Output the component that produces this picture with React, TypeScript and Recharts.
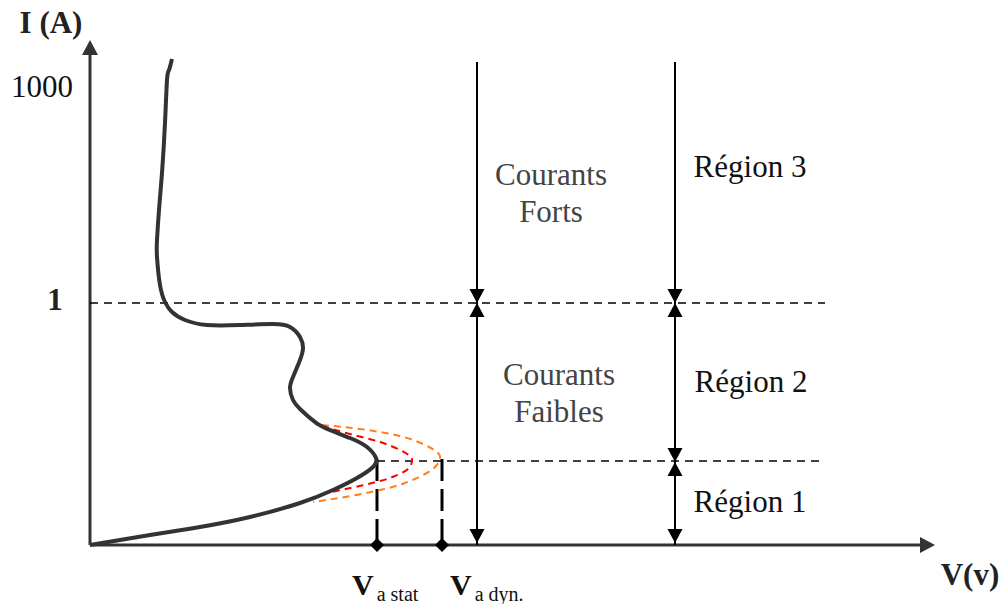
import React from "react";
import {
  ComposedChart,
  Line,
  Scatter,
  XAxis,
  YAxis,
  ReferenceLine,
} from "recharts";

// Schematic units: v = tension (arbitrary), i = courant (arbitrary, 0 at the V axis)
const mainCurve = [
  { v: 0, i: 0 },
  { v: 60, i: 10 },
  { v: 110, i: 18 },
  { v: 160, i: 28 },
  { v: 210, i: 42 },
  { v: 243, i: 55 },
  { v: 267, i: 67 },
  { v: 283, i: 78 },
  { v: 286, i: 87 },
  { v: 277, i: 98 },
  { v: 260, i: 107 },
  { v: 233, i: 118 },
  { v: 220, i: 127 },
  { v: 210, i: 136 },
  { v: 203, i: 145 },
  { v: 200, i: 157 },
  { v: 203, i: 168 },
  { v: 210, i: 185 },
  { v: 213, i: 197 },
  { v: 210, i: 208 },
  { v: 200, i: 218 },
  { v: 183, i: 221 },
  { v: 150, i: 220 },
  { v: 117, i: 220 },
  { v: 95, i: 225 },
  { v: 82, i: 233 },
  { v: 75, i: 243 },
  { v: 70, i: 260 },
  { v: 67, i: 288 },
  { v: 67, i: 305 },
  { v: 69, i: 335 },
  { v: 72, i: 372 },
  { v: 75, i: 422 },
  { v: 77, i: 465 },
  { v: 79, i: 475 },
  { v: 82, i: 486 },
];

const redCurve = [
  { v: 232, i: 119 },
  { v: 260, i: 111 },
  { v: 290, i: 103 },
  { v: 310, i: 95 },
  { v: 320, i: 89 },
  { v: 322, i: 84 },
  { v: 318, i: 76 },
  { v: 305, i: 69 },
  { v: 290, i: 64 },
  { v: 265, i: 58 },
  { v: 242, i: 53 },
];

const orangeCurve = [
  { v: 232, i: 120 },
  { v: 270, i: 116 },
  { v: 310, i: 109 },
  { v: 335, i: 100 },
  { v: 347, i: 93 },
  { v: 350, i: 87 },
  { v: 346, i: 79 },
  { v: 335, i: 71 },
  { v: 315, i: 62 },
  { v: 290, i: 55 },
  { v: 255, i: 48 },
  { v: 223, i: 43 },
];

const I_ONE = 242; // level "1"
const I_TIP = 84; // level of the static threshold
const V_STAT = 287;
const V_DYN = 352;
const V_ZONES = 387;
const V_REGIONS = 585;
const I_TOP = 483;

const thresholds = [
  { v: V_STAT, i: 0 },
  { v: V_DYN, i: 0 },
];

const arrowHeads = [
  { v: 0, i: 505, dir: "up", big: true },
  { v: 845, i: 0, dir: "right", big: true },
  { v: V_ZONES, i: I_ONE, dir: "down" },
  { v: V_ZONES, i: I_ONE, dir: "up" },
  { v: V_ZONES, i: 2, dir: "down" },
  { v: V_REGIONS, i: I_ONE, dir: "down" },
  { v: V_REGIONS, i: I_ONE, dir: "up" },
  { v: V_REGIONS, i: I_TIP - 1, dir: "down" },
  { v: V_REGIONS, i: I_TIP - 1, dir: "up" },
  { v: V_REGIONS, i: 2, dir: "down" },
];

const labels = [
  { v: -39, i: 512, text: "I (A)", kind: "axis" },
  { v: -48, i: 448, text: "1000", kind: "tick" },
  { v: -35, i: 235, text: "1", kind: "axis" },
  { v: 880, i: -40, text: "V(v)", kind: "axis" },
  { v: 461, i: 360, text: "Courants", kind: "zone" },
  { v: 461, i: 323, text: "Forts", kind: "zone" },
  { v: 469, i: 160, text: "Courants", kind: "zone" },
  { v: 469, i: 123, text: "Faibles", kind: "zone" },
  { v: 660, i: 368, text: "Région 3", kind: "region" },
  { v: 661, i: 153, text: "Région 2", kind: "region" },
  { v: 660, i: 33, text: "Région 1", kind: "region" },
];

const voltLabels = [
  { v: 262, i: -50, main: "V", sub: "a stat" },
  { v: 360, i: -50, main: "V", sub: "a dyn." },
];

const FONT = "Liberation Serif, DejaVu Serif, serif";

const LABEL_STYLE: Record<string, { fill: string; weight: number }> = {
  axis: { fill: "#222", weight: 700 },
  tick: { fill: "#111", weight: 400 },
  zone: { fill: "#444", weight: 400 },
  region: { fill: "#111", weight: 400 },
};

function ArrowHead(props: any) {
  const { cx, cy, payload } = props;
  const w = payload.big ? 8 : 7.5;
  const h = payload.big ? 15 : 14;
  let pts = "";
  if (payload.dir === "up") pts = `${cx},${cy} ${cx - w},${cy + h} ${cx + w},${cy + h}`;
  if (payload.dir === "down") pts = `${cx},${cy} ${cx - w},${cy - h} ${cx + w},${cy - h}`;
  if (payload.dir === "right") pts = `${cx},${cy} ${cx - h},${cy - w} ${cx - h},${cy + w}`;
  return <polygon points={pts} fill={payload.big ? "#333" : "#000"} />;
}

function Diamond(props: any) {
  const { cx, cy } = props;
  const s = 7;
  return (
    <polygon
      points={`${cx},${cy - s} ${cx + s},${cy} ${cx},${cy + s} ${cx - s},${cy}`}
      fill="#000"
    />
  );
}

function TextMark(props: any) {
  const { cx, cy, payload } = props;
  const st = LABEL_STYLE[payload.kind];
  return (
    <text
      x={cx}
      y={cy}
      textAnchor="middle"
      style={{ fontFamily: FONT, fontSize: 31, fontWeight: st.weight }}
      fill={st.fill}
    >
      {payload.text}
    </text>
  );
}

function VoltMark(props: any) {
  const { cx, cy, payload } = props;
  return (
    <text x={cx} y={cy} style={{ fontFamily: FONT }} fill="#111">
      <tspan style={{ fontSize: 30, fontWeight: 700 }}>{payload.main}</tspan>
      <tspan style={{ fontSize: 20 }} dx={3} dy={6}>
        {payload.sub}
      </tspan>
    </text>
  );
}

export default function App() {
  return (
    <div style={{ position: "absolute", left: 0, top: 0, background: "#fff" }}>
      <ComposedChart
        width={1003}
        height={604}
        margin={{ top: 0, right: 0, bottom: 0, left: 0 }}
      >
        <XAxis
          type="number"
          dataKey="v"
          domain={[-90, 913]}
          allowDataOverflow
          hide
        />
        <YAxis
          type="number"
          dataKey="i"
          domain={[-59, 545]}
          allowDataOverflow
          hide
        />

        {/* axes */}
        <ReferenceLine
          segment={[{ x: 0, y: 0 }, { x: 0, y: 492 }]}
          stroke="#333"
          strokeWidth={3}
        />
        <ReferenceLine
          segment={[{ x: 0, y: 0 }, { x: 832, y: 0 }]}
          stroke="#333"
          strokeWidth={3}
        />

        {/* threshold levels */}
        <ReferenceLine
          segment={[{ x: 0, y: I_ONE }, { x: 735, y: I_ONE }]}
          stroke="#000"
          strokeWidth={1.6}
          strokeDasharray="8 6"
        />
        <ReferenceLine
          segment={[{ x: V_STAT, y: I_TIP }, { x: 730, y: I_TIP }]}
          stroke="#000"
          strokeWidth={1.6}
          strokeDasharray="8 6"
        />
        <ReferenceLine
          segment={[{ x: V_STAT, y: I_TIP + 2 }, { x: V_STAT, y: 0 }]}
          stroke="#000"
          strokeWidth={3}
          strokeDasharray="22 8"
        />
        <ReferenceLine
          segment={[{ x: V_DYN, y: I_TIP + 2 }, { x: V_DYN, y: 0 }]}
          stroke="#000"
          strokeWidth={3}
          strokeDasharray="22 8"
        />

        {/* zone arrows */}
        <ReferenceLine
          segment={[{ x: V_ZONES, y: I_TOP }, { x: V_ZONES, y: 0 }]}
          stroke="#000"
          strokeWidth={2}
        />
        <ReferenceLine
          segment={[{ x: V_REGIONS, y: I_TOP }, { x: V_REGIONS, y: 0 }]}
          stroke="#000"
          strokeWidth={2}
        />

        <Line
          data={orangeCurve}
          dataKey="i"
          type="natural"
          stroke="#ff7f1e"
          strokeWidth={2}
          strokeDasharray="7 5"
          dot={false}
          isAnimationActive={false}
        />
        <Line
          data={redCurve}
          dataKey="i"
          type="natural"
          stroke="#ff0000"
          strokeWidth={2}
          strokeDasharray="7 5"
          dot={false}
          isAnimationActive={false}
        />
        <Line
          data={mainCurve}
          dataKey="i"
          type="natural"
          stroke="#333"
          strokeWidth={4}
          dot={false}
          isAnimationActive={false}
        />

        <Scatter data={arrowHeads} shape={ArrowHead} isAnimationActive={false} />
        <Scatter data={thresholds} shape={Diamond} isAnimationActive={false} />
        <Scatter data={labels} shape={TextMark} isAnimationActive={false} />
        <Scatter data={voltLabels} shape={VoltMark} isAnimationActive={false} />
      </ComposedChart>
    </div>
  );
}
